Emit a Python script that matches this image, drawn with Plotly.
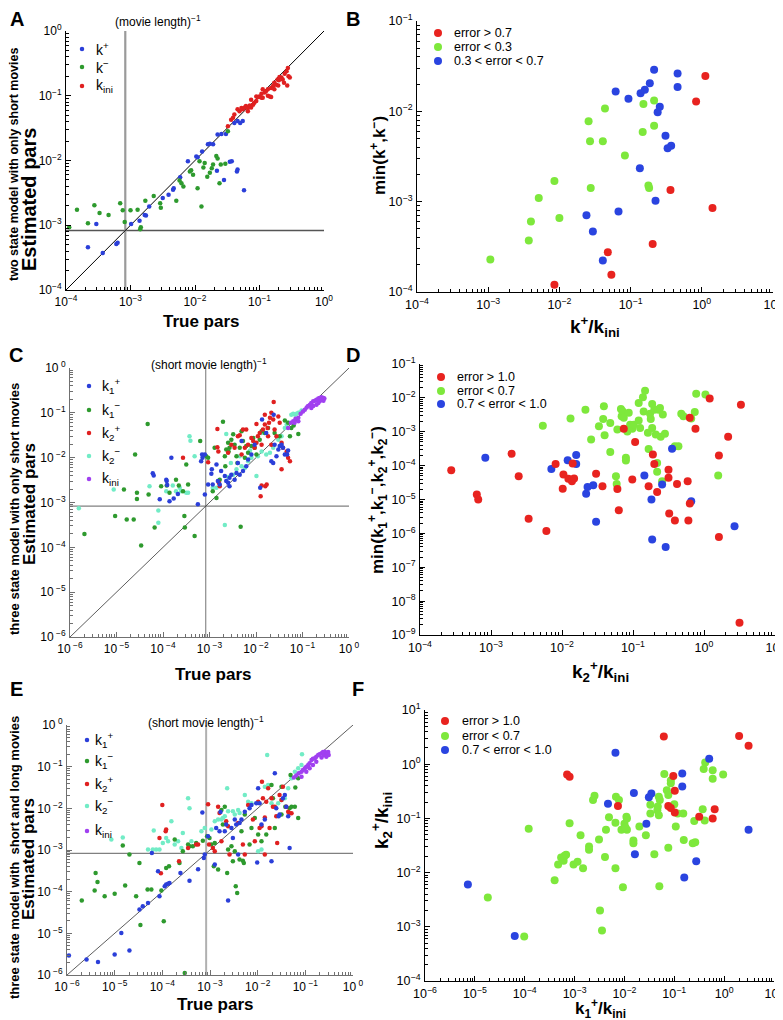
import plotly.graph_objects as go

W, H = 783, 1020
FONT = "Liberation Sans, Arial, Helvetica, sans-serif"

MOVIE_RATE = 8.3e-4  # (movie length)^-1

# ---------------- data (log10 of values) ----------------
# Panel A : (true, estimated)
A_KPLUS = [(-3.66,-3.34),(-3.53,-2.98),(-3.43,-3.43),(-3.22,-3.29),(-3.20,-3.27),(-2.99,-2.98),(-2.86,-2.93),
           (-2.78,-2.84),(-2.76,-2.85),(-2.71,-2.71),(-2.50,-2.58),(-2.41,-2.53),(-2.34,-2.45),(-2.33,-2.43),
           (-2.23,-2.26),(-2.11,-2.01),(-1.98,-1.94),(-1.96,-1.95),(-1.89,-1.86),(-1.80,-1.75),(-1.77,-1.74),
           (-1.72,-1.75),(-1.66,-2.16),(-1.65,-1.60),(-1.59,-1.59),(-1.55,-2.30),(-1.46,-2.02),(-1.43,-2.01),
           (-1.35,-2.17),(-1.34,-2.14),(-1.24,-2.46),(-1.34,-1.39),(-1.30,-1.42),(-1.26,-1.39),(-1.39,-1.42),
           (-1.52,-1.59)]
A_KMINUS = [(-3.95,-3.03),(-3.83,-2.76),(-3.66,-2.97),(-3.56,-2.69),(-3.48,-2.81),(-3.34,-2.84),(-3.16,-2.66),
            (-3.12,-2.77),(-3.09,-2.95),(-3.00,-2.77),(-2.89,-2.76),(-2.85,-3.06),(-2.84,-3.03),(-2.77,-2.62),
            (-2.64,-2.55),(-2.54,-2.66),(-2.53,-2.73),(-2.29,-2.62),(-2.24,-2.31),(-2.21,-2.35),(-2.18,-2.40),
            (-2.08,-2.17),(-2.06,-2.15),(-2.03,-2.22),(-1.96,-2.43),(-1.93,-2.01),(-1.90,-2.71),(-1.87,-2.11),
            (-1.85,-2.04),(-1.81,-2.25),(-1.77,-2.19),(-1.74,-2.12),(-1.72,-2.06),(-1.67,-1.93),(-1.65,-1.97),
            (-1.62,-2.35),(-1.60,-2.06),(-1.53,-2.05),(-1.49,-1.55)]
A_KINI = [(-1.49,-1.47),(-1.44,-1.37),(-1.41,-1.34),(-1.39,-1.29),(-1.34,-1.21),(-1.31,-1.24),(-1.28,-1.19),
          (-1.26,-1.21),(-1.23,-1.18),(-1.21,-1.16),(-1.18,-1.19),(-1.18,-1.24),(-1.15,-1.15),(-1.13,-1.18),
          (-1.13,-1.06),(-1.10,-1.14),(-1.08,-1.11),(-1.05,-1.08),(-1.05,-1.01),(-1.02,-1.02),(-1.00,-1.01),
          (-0.97,-0.97),(-0.97,-1.03),(-0.95,-1.03),(-0.95,-0.90),(-0.92,-0.95),(-0.90,-0.93),(-0.87,-0.90),
          (-0.87,-1.00),(-0.84,-1.01),(-0.82,-0.88),(-0.82,-1.02),(-0.79,-0.85),(-0.77,-0.90),(-0.77,-0.80),
          (-0.74,-0.83),(-0.72,-0.75),(-0.71,-0.84),(-0.70,-0.76),(-0.69,-0.71),(-0.66,-0.72),(-0.64,-0.75),
          (-0.62,-0.80),(-0.61,-0.66),(-0.58,-0.62),(-0.57,-0.84),(-0.56,-0.57),(-0.55,-0.70),(-0.53,-0.72)]

# Panel B : (k+/kini, min(k+,k-))
B_ERR_HI = [(0.05,-1.61),(-0.08,-1.89),(-0.44,-2.87),(0.15,-3.07),(-0.69,-3.47),(-1.32,-3.56),(-1.27,-3.81),
            (-2.07,-3.92)]
B_ERR_LO = [(-0.67,-1.88),(-0.82,-1.92),(-1.36,-1.97),(-1.59,-2.11),(-0.67,-2.16),(-0.83,-2.23),(-1.57,-2.33),
            (-1.39,-2.33),(-1.08,-2.49),(-2.07,-2.77),(-1.56,-2.85),(-0.75,-2.82),(-0.74,-2.85),(-2.29,-2.96),
            (-2.00,-3.18),(-2.40,-3.22),(-2.43,-3.43),(-2.97,-3.64)]
B_ERR_MID = [(-0.67,-1.54),(-0.34,-1.58),(-1.21,-1.78),(-0.80,-1.76),(-0.86,-1.80),(-0.73,-1.69),(-1.03,-1.86),
             (-0.34,-1.73),(-0.59,-1.95),(-0.62,-2.01),(-0.51,-2.27),(-0.43,-2.38),(-0.48,-2.41),(-0.87,-2.63),
             (-0.65,-2.99),(-1.17,-3.11),(-1.62,-3.15),(-1.53,-3.33),(-1.39,-3.65)]

# Panel C : (true, estimated)
C_K1P = [(-4.22,-2.35),(-4.20,-2.40),(-4.07,-2.93),(-3.93,-2.49),(-3.92,-2.52),(-3.91,-2.61),(-3.86,-2.97),
         (-3.82,-2.00),(-3.77,-2.91),(-3.68,-2.81),(-3.16,-1.93),(-3.15,-2.00),(-3.25,-3.04),(-3.10,-2.82),
         (-3.03,-2.60),(-3.18,-2.08),(-2.96,-2.36),(-2.93,-2.60),(-2.85,-2.15),(-2.82,-2.52),(-2.78,-2.60),
         (-2.75,-2.30),(-2.64,-2.52),(-2.60,-2.56),(-2.57,-2.45),(-2.53,-2.38),(-2.46,-2.49),(-2.42,-2.34),
         (-2.39,-2.12),(-2.35,-2.38),(-2.31,-1.63),(-2.28,-2.30),(-2.21,-2.19),(-2.17,-2.04),(-2.10,-1.93),
         (-2.03,-1.71),(-1.91,-2.67),(-1.87,-1.15),(-1.78,-1.45),(-1.67,-2.08),(-1.63,-2.12),(-1.60,-1.71),
         (-1.56,-1.97),(-1.52,-1.82),(-1.49,-1.74),(-1.45,-1.71),(-1.42,-1.78),(-1.38,-1.93),(-1.33,-1.93),
         (-1.31,-1.84),(-1.62,-1.04),(-3.10,-1.93),(-2.67,-2.41),(-2.57,-2.64),(-2.95,-2.26)]
C_K1M = [(-5.69,-3.70),(-5.03,-3.30),(-4.84,-2.71),(-4.78,-3.38),(-4.63,-3.38),(-4.60,-1.93),(-4.56,-2.78),
         (-4.56,-2.92),(-4.47,-3.96),(-4.33,-1.25),(-4.31,-2.82),(-4.18,-3.56),(-4.04,-2.64),(-3.92,-2.62),
         (-3.86,-2.78),(-3.72,-2.49),(-3.66,-2.62),(-3.57,-2.75),(-3.54,-3.30),(-3.53,-3.56),(-3.50,-2.15),
         (-3.46,-2.60),(-3.32,-3.75),(-3.20,-1.63),(-3.07,-1.97),(-3.03,-2.00),(-2.93,-2.75),(-2.89,-1.78),
         (-2.85,-2.90),(-2.78,-2.49),(-2.71,-1.20),(-2.67,-1.97),(-2.66,-2.19),(-2.64,-1.82),(-2.60,-1.67),
         (-2.59,-1.86),(-2.57,-1.78),(-2.53,-1.60),(-2.49,-1.48),(-2.46,-1.71),(-2.42,-1.97),(-2.40,-2.12),
         (-2.35,-1.78),(-2.33,-3.54),(-2.31,-1.41),(-2.28,-1.63),(-2.24,-2.00),(-2.21,-1.74),(-2.17,-1.89),
         (-2.10,-1.74),(-2.06,-1.56),(-2.03,-1.78),(-1.99,-1.93),(-1.92,-1.60),(-1.88,-1.41),(-1.81,-1.45),
         (-1.74,-1.34),(-1.60,-1.45),(-1.49,-1.52),(-1.38,-1.17),(-1.31,-1.22),(-1.24,-1.34),(-1.19,-1.28),
         (-1.09,-1.47),(-1.14,-1.15),(-1.27,-1.52)]
C_K2P = [(-3.57,-2.00),(-3.03,-2.10),(-2.83,-1.77),(-2.81,-1.86),(-2.80,-2.56),(-2.78,-2.64),(-2.83,-1.36),
         (-2.60,-1.89),(-2.53,-1.71),(-2.46,-1.78),(-2.39,-1.52),(-2.35,-1.50),(-2.31,-1.93),(-2.28,-1.37),
         (-2.24,-1.78),(-2.21,-1.37),(-2.17,-1.71),(-2.10,-1.56),(-2.06,-1.63),(-2.03,-1.78),(-1.99,-1.67),
         (-1.96,-1.52),(-1.92,-1.45),(-1.90,-2.86),(-1.88,-2.62),(-1.85,-1.37),(-1.81,-1.26),(-1.80,-2.64),
         (-1.77,-2.60),(-1.75,-1.34),(-1.72,-1.22),(-1.70,-1.11),(-1.67,-1.00),(-1.63,-1.15),(-1.60,-1.37),
         (-1.56,-1.52),(-1.52,-1.08),(-1.49,-1.22),(-1.62,-0.76),(-1.45,-1.67),(-1.42,-1.78),(-1.34,-1.86),
         (-1.31,-2.00),(-1.27,-2.08),(-1.67,-1.71),(-1.88,-1.71),(-1.74,-1.52),(-1.45,-2.26),(-1.81,-1.04),
         (-1.99,-1.25)]
C_K2M = [(-5.81,-3.13),(-5.06,-2.71),(-4.29,-2.64),(-4.10,-3.18),(-4.10,-3.45),(-3.93,-2.75),(-3.79,-2.62),
         (-3.72,-2.75),(-3.64,-2.67),(-3.61,-2.75),(-3.50,-2.78),(-3.46,-2.78),(-3.43,-1.52),(-3.41,-1.62),
         (-3.32,-1.97),(-2.93,-2.67),(-2.85,-2.67),(-2.67,-3.50),(-2.64,-1.47),(-2.60,-2.43),(-2.54,-2.12),
         (-2.49,-2.38),(-2.42,-2.26),(-2.35,-1.97),(-2.31,-2.19),(-2.24,-2.23),(-2.17,-2.08),(-2.10,-2.00),
         (-1.99,-2.41),(-1.96,-1.97),(-1.88,-1.86),(-1.78,-1.93),(-1.70,-1.89),(-1.63,-1.78),(-1.52,-1.60),
         (-1.45,-1.52),(-1.38,-1.34),(-1.31,-1.22),(-1.24,-1.04),(-1.20,-1.02),(-1.16,-1.04),(-1.13,-1.02),
         (-1.09,-1.00),(-1.06,-1.00),(-1.02,-0.95),(-1.34,-1.26),(-1.88,-1.45),(-2.13,-1.84)]
C_KINI = [(-1.31,-1.34),(-1.25,-1.22),(-1.20,-1.19),(-1.15,-1.13),(-1.09,-1.11),(-1.04,-1.02),(-0.99,-0.97),
          (-0.95,-0.93),(-0.91,-0.88),(-0.88,-0.85),(-0.84,-0.82),(-0.81,-0.78),(-0.77,-0.74),(-0.73,-0.73),
          (-0.70,-0.71),(-0.66,-0.68),(-0.63,-0.67),(-0.59,-0.65),(-0.55,-0.67),(-0.53,-0.68),(-0.70,-0.82),
          (-0.77,-0.85),(-0.63,-0.74),(-0.55,-0.73),(-0.66,-0.78),(-0.59,-0.70),(-0.81,-0.89),(-1.17,-1.22),
          (-1.09,-1.19)]

# Panel D : (k2+/kini, min(k1+,k1-,k2+,k2-))
D_ERR_HI = [(-3.56,-4.14),(-3.20,-4.85),(-3.18,-5.00),(-2.71,-3.65),(-2.61,-4.31),(-2.47,-5.57),(-2.22,-5.93),
            (-2.09,-3.95),(-1.85,-3.94),(-1.98,-4.26),(-1.99,-4.68),(-1.91,-4.39),(-1.86,-4.46),(-1.83,-4.38),
            (-1.52,-4.24),(-1.43,-4.61),(-1.22,-4.69),(-1.20,-5.32),(-1.13,-2.91),(-0.97,-3.30),(-1.01,-4.41),
            (-0.78,-4.61),(-0.72,-3.67),(-0.70,-3.95),(-0.66,-4.78),(-0.50,-4.12),(-0.50,-4.36),(-0.49,-5.41),
            (-0.41,-5.62),(-0.38,-4.54),(-0.23,-4.46),(-0.22,-5.62),(-0.20,-2.59),(-0.20,-5.12),(-0.12,-2.91),
            (0.08,-2.02),(0.21,-3.70),(0.21,-6.11),(0.34,-3.15),(0.52,-2.20),(0.50,-8.64)]
D_ERR_LO = [(-2.27,-2.82),(-1.88,-2.61),(-1.67,-2.35),(-1.59,-3.23),(-1.48,-2.84),(-1.42,-2.62),(-1.41,-2.25),
            (-1.40,-3.10),(-1.32,-2.74),(-1.32,-3.60),(-1.24,-4.31),(-1.23,-4.54),(-1.22,-2.93),(-1.17,-2.33),
            (-1.16,-2.54),(-1.15,-2.39),(-1.13,-2.59),(-1.10,-3.77),(-1.10,-3.85),(-1.08,-2.99),(-1.06,-2.44),
            (-1.04,-2.79),(-1.01,-2.91),(-0.99,-2.79),(-0.92,-2.15),(-0.92,-2.67),(-0.90,-2.89),(-0.86,-1.98),
            (-0.85,-2.40),(-0.83,-1.79),(-0.79,-3.03),(-0.78,-3.51),(-0.76,-2.47),(-0.75,-2.62),(-0.73,-2.18),
            (-0.73,-2.89),(-0.70,-2.35),(-0.68,-3.08),(-0.66,-3.92),(-0.66,-4.18),(-0.64,-2.35),(-0.62,-2.30),
            (-0.61,-3.15),(-0.58,-2.49),(-0.55,-3.06),(-0.59,-4.46),(-0.41,-3.43),(-0.36,-3.43),(-0.32,-2.47),
            (-0.29,-2.54),(-0.18,-2.61),(-0.13,-2.42),(-0.11,-1.88),(0.02,-1.90),(0.20,-4.29)]
D_ERR_MID = [(-3.08,-3.77),(-2.15,-4.10),(-1.92,-3.84),(-1.80,-3.69),(-1.80,-3.95),(-1.64,-4.63),(-1.66,-4.83),
             (-1.56,-4.58),(-1.52,-5.66),(-0.84,-4.29),(-0.74,-5.00),(-0.73,-6.18),(-0.59,-4.56),(-0.54,-6.40),
             (-0.45,-3.50),(-0.18,-5.05),(0.43,-5.79)]

# Panel E : (true, estimated)
E_K1P = [(-5.96,-5.53),(-5.59,-5.63),(-5.35,-5.69),(-5.00,-5.51),(-4.86,-4.99),(-4.69,-5.41),(-4.48,-4.43),
         (-4.41,-4.35),(-4.30,-4.27),(-4.22,-3.07),(-4.09,-3.51),(-4.06,-4.11),(-3.95,-3.87),(-3.92,-3.83),
         (-3.88,-3.81),(-3.85,-3.79),(-3.62,-3.55),(-3.43,-3.74),(-3.25,-3.46),(-3.16,-2.10),(-3.13,-3.19),
         (-3.11,-3.11),(-3.04,-2.67),(-2.90,-3.35),(-2.87,-2.47),(-2.80,-2.55),(-2.69,-2.55),(-2.66,-2.39),
         (-2.62,-4.21),(-2.55,-2.47),(-2.52,-2.71),(-2.48,-2.27),(-2.45,-2.39),(-2.41,-3.11),(-2.38,-2.35),
         (-2.34,-2.27),(-2.27,-2.08),(-2.17,-2.00),(-2.13,-1.92),(-2.03,-1.88),(-2.01,-3.30),(-1.99,-1.52),
         (-1.96,-1.88),(-1.92,-2.39),(-1.85,-2.27),(-1.71,-3.27),(-1.64,-1.16),(-1.61,-2.00),(-1.56,-2.19),
         (-1.54,-2.15),(-1.47,-1.76),(-1.43,-1.68),(-1.33,-2.95),(-1.36,-2.19),(-1.40,-1.96),(-2.78,-2.09)]
E_K1M = [(-5.69,-4.21),(-5.42,-3.97),(-5.40,-3.55),(-5.36,-3.77),(-5.21,-4.11),(-5.00,-4.05),(-4.83,-2.89),
         (-4.78,-3.85),(-4.69,-3.11),(-4.55,-4.11),(-4.46,-4.80),(-4.48,-3.31),(-4.31,-3.95),(-4.23,-3.95),
         (-4.02,-3.97),(-3.97,-4.71),(-3.92,-3.43),(-3.86,-3.39),(-3.74,-2.75),(-3.64,-3.31),(-3.57,-3.03),
         (-3.53,-5.95),(-3.46,-2.87),(-3.43,-2.91),(-3.36,-2.91),(-3.29,-2.83),(-3.15,-2.78),(-3.06,-2.67),
         (-3.01,-2.71),(-2.97,-2.87),(-2.92,-3.39),(-2.90,-2.83),(-2.83,-3.47),(-2.76,-2.04),(-2.73,-2.39),
         (-2.69,-1.96),(-2.64,-3.55),(-2.62,-2.99),(-2.55,-2.91),(-2.52,-3.27),(-2.48,-3.03),(-2.46,-3.87),
         (-2.43,-4.03),(-2.38,-3.23),(-2.34,-2.55),(-2.31,-3.26),(-2.29,-3.31),(-2.27,-2.15),(-2.17,-2.87),
         (-2.13,-2.47),(-2.06,-2.23),(-1.99,-2.63),(-1.92,-2.79),(-1.82,-2.63),(-1.71,-1.44),(-1.68,-1.76),
         (-1.64,-2.47),(-1.50,-2.15),(-1.42,-1.96),(-1.33,-2.00),(-1.29,-1.96),(-1.22,-1.96),(-1.21,-1.50),
         (-1.15,-2.23),(-1.31,-1.20),(-1.15,-1.28),(-1.50,-1.48)]
E_K2P = [(-4.06,-2.71),(-4.00,-1.92),(-3.93,-2.55),(-3.92,-2.51),(-4.03,-3.56),(-3.65,-3.27),(-3.46,-2.95),
         (-3.29,-2.87),(-3.25,-2.87),(-3.04,-1.90),(-3.02,-2.87),(-2.94,-2.95),(-2.90,-3.03),(-2.83,-1.96),
         (-2.80,-2.11),(-2.76,-2.79),(-2.66,-2.31),(-2.62,-2.43),(-2.59,-3.11),(-2.41,-2.35),(-2.31,-2.87),
         (-2.27,-3.11),(-2.20,-1.92),(-2.10,-2.27),(-2.06,-2.79),(-1.99,-1.84),(-1.96,-2.47),(-1.92,-2.43),
         (-1.89,-1.76),(-1.85,-3.11),(-1.82,-1.84),(-1.78,-1.52),(-1.75,-2.47),(-1.71,-1.76),(-1.68,-1.96),
         (-1.64,-1.96),(-1.61,-2.19),(-1.59,-2.83),(-1.54,-1.68),(-1.50,-1.80),(-1.47,-1.48),(-1.40,-1.96),
         (-1.36,-2.08),(-1.33,-2.12),(-1.29,-2.12),(-1.91,-1.36),(-1.85,-2.22)]
E_K2M = [(-5.07,-2.75),(-4.83,-2.70),(-4.30,-2.99),(-4.20,-2.99),(-4.13,-2.99),(-4.06,-2.99),(-4.18,-2.53),
         (-3.99,-2.83),(-3.92,-2.71),(-3.88,-2.79),(-3.81,-2.31),(-3.74,-2.87),(-3.67,-2.79),(-3.60,-2.95),
         (-3.57,-2.59),(-3.46,-1.76),(-3.43,-2.00),(-3.39,-2.79),(-3.18,-2.55),(-3.11,-2.47),(-2.97,-2.51),
         (-2.90,-2.31),(-2.83,-2.27),(-2.76,-2.27),(-2.73,-2.23),(-2.69,-2.19),(-2.64,-1.52),(-2.62,-2.07),
         (-2.52,-2.07),(-2.48,-2.15),(-2.41,-2.04),(-2.38,-2.11),(-2.27,-1.68),(-2.20,-1.84),(-2.13,-1.88),
         (-1.99,-3.03),(-1.92,-2.99),(-1.85,-1.48),(-1.78,-1.44),(-1.80,-0.72),(-1.71,-1.88),(-1.57,-1.88),
         (-1.50,-1.80),(-1.43,-1.76),(-1.36,-1.52),(-1.22,-1.12),(-1.15,-1.04),(-1.08,-0.96),(-1.07,-0.70),
         (-1.29,-1.28)]
E_KINI = [(-1.24,-1.26),(-1.19,-1.21),(-1.14,-1.16),(-1.08,-1.12),(-1.05,-1.08),(-1.01,-1.04),(-0.98,-1.00),
          (-0.94,-0.96),(-0.91,-0.92),(-0.87,-0.84),(-0.84,-0.81),(-0.80,-0.80),(-0.77,-0.76),(-0.73,-0.72),
          (-0.70,-0.70),(-0.66,-0.68),(-0.63,-0.65),(-0.59,-0.64),(-0.56,-0.68),(-0.52,-0.65),(-0.51,-0.72),
          (-0.66,-0.78),(-0.77,-0.88),(-0.84,-0.96),(-0.91,-1.04),(-0.61,-0.72),(-0.56,-0.76),(-0.98,-1.12),
          (-1.08,-1.24)]

# Panel F : (k1+/kini, k2+/kini)
F_ERR_HI = [(0.30,0.52),(0.49,0.34),(-1.21,0.51),(-3.15,-0.19),(-3.10,-0.23),(-2.13,-0.77),(-1.02,-0.22),
            (-0.99,-0.49),(-1.12,-0.77),(-1.07,-0.81),(-0.99,-0.89),(-0.50,-0.97),(-0.19,-0.83),(-0.23,-1.00)]
F_ERR_LO = [(-3.92,-1.19),(-4.74,-2.46),(-4.01,-3.18),(-3.40,-2.14),(-3.33,-1.85),(-3.27,-1.72),(-3.22,-1.78),
            (-3.20,-1.69),(-3.17,-1.67),(-3.10,-1.09),(-3.02,-1.85),(-2.94,-1.80),(-2.88,-1.31),(-2.83,-1.92),
            (-2.71,-1.58),(-2.71,-1.52),(-2.63,-0.66),(-2.60,-0.58),(-2.51,-1.39),(-2.49,-2.70),(-2.45,-3.07),
            (-2.39,-1.71),(-2.31,-0.98),(-2.37,-1.21),(-2.18,-1.92),(-2.18,-1.08),(-2.17,-0.60),(-2.11,-0.66),
            (-2.06,-1.21),(-2.03,-2.27),(-2.00,-1.10),(-1.96,-0.97),(-1.95,-1.00),(-1.95,-1.21),(-1.98,-1.17),
            (-1.82,-1.41),(-1.82,-1.46),(-1.70,-1.15),(-1.57,-1.31),(-1.48,-0.91),(-1.48,-0.75),(-1.40,-1.66),
            (-1.34,-0.85),(-1.33,-0.78),(-1.31,-0.94),(-1.31,-0.60),(-1.29,-0.66),(-1.30,-2.25),(-1.20,-0.18),
            (-1.15,-0.48),(-1.12,-0.57),(-1.07,-0.30),(-1.07,-0.35),(-1.12,-1.54),(-1.00,-0.74),(-0.97,-1.15),
            (-0.93,-0.91),(-0.82,-0.91),(-0.81,-1.40),(-0.60,-1.05),(-0.63,-1.46),(-0.58,-1.44),(-0.43,-0.83),
            (-0.39,-1.04),(-0.38,0.03),(-0.41,-0.09),(-0.23,-0.11),(-0.23,-0.27),(-0.02,-0.19)]
F_ERR_MID = [(-2.18,0.21),(-0.30,0.10),(-0.84,-0.17),(-0.84,-0.41),(-1.81,-0.53),(-1.51,-0.61),(-1.46,-0.54),
             (-2.33,-0.73),(-1.56,-1.10),(-1.79,-1.66),(-0.56,-1.79),(-0.80,-2.09),(0.49,-1.21),(-5.14,-2.22),
             (-4.20,-3.17)]

# colours
BLUE, GREEN, RED, CYAN, PURPLE = "#2b3fd9", "#2e9a2e", "#e02020", "#72ecc6", "#a040f0"
R2, G2, B2 = "#e8231f", "#7ee83c", "#2a44e0"


def xy(pairs):
    return [10 ** p[0] for p in pairs], [10 ** p[1] for p in pairs]


def PX(x):
    return x / W


def PY(y):
    return 1 - y / H


fig = go.Figure()


def scatter(pairs, color, size, ax):
    xs, ys = xy(pairs)
    fig.add_trace(go.Scatter(x=xs, y=ys, mode="markers", xaxis="x" + ax, yaxis="y" + ax,
                             marker=dict(color=color, size=size, line=dict(width=0)),
                             showlegend=False, cliponaxis=False, hoverinfo="skip"))


def refline(xs, ys, ax, color, width):
    fig.add_trace(go.Scatter(x=xs, y=ys, mode="lines", xaxis="x" + ax, yaxis="y" + ax,
                             line=dict(color=color, width=width), showlegend=False, hoverinfo="skip"))


# Panel A
refline([1e-4, 1], [MOVIE_RATE, MOVIE_RATE], "", "#555555", 1.3)
refline([MOVIE_RATE, MOVIE_RATE], [1e-4, 1], "", "#9a9a9a", 2.2)
refline([1e-4, 1], [1e-4, 1], "", "black", 1)
scatter(A_KPLUS, BLUE, 4.5, "")
scatter(A_KMINUS, GREEN, 4.5, "")
scatter(A_KINI, RED, 4.5, "")

# Panel B
scatter(B_ERR_LO, G2, 8, "2")
scatter(B_ERR_MID, B2, 8, "2")
scatter(B_ERR_HI, R2, 8, "2")

# Panel C
refline([1e-6, 1], [MOVIE_RATE, MOVIE_RATE], "3", "#808080", 1.1)
refline([MOVIE_RATE, MOVIE_RATE], [1e-6, 1], "3", "#808080", 1.1)
refline([1e-6, 1], [1e-6, 1], "3", "#333333", 0.8)
scatter(C_K2M, CYAN, 4.5, "3")
scatter(C_K1M, GREEN, 4.5, "3")
scatter(C_K2P, RED, 4.5, "3")
scatter(C_K1P, BLUE, 4.5, "3")
scatter(C_KINI, PURPLE, 4.5, "3")

# Panel D
scatter(D_ERR_LO, G2, 8, "4")
scatter(D_ERR_MID, B2, 8, "4")
scatter(D_ERR_HI, R2, 8, "4")

# Panel E
refline([1e-6, 1], [MOVIE_RATE, MOVIE_RATE], "5", "#808080", 1.1)
refline([MOVIE_RATE, MOVIE_RATE], [1e-6, 1], "5", "#b0b0b0", 2.0)
refline([1e-6, 1], [1e-6, 1], "5", "#333333", 0.8)
scatter(E_K2M, CYAN, 4.5, "5")
scatter(E_K1M, GREEN, 4.5, "5")
scatter(E_K2P, RED, 4.5, "5")
scatter(E_K1P, BLUE, 4.5, "5")
scatter(E_KINI, PURPLE, 4.5, "5")

# Panel F
scatter(F_ERR_LO, G2, 8, "6")
scatter(F_ERR_MID, B2, 8, "6")
scatter(F_ERR_HI, R2, 8, "6")


def log_axis(lo, hi, dom, anchor, color, fsize, sep=""):
    ks = list(range(lo, hi + 1))
    vals = [10.0 ** k for k in ks]
    text = ["10" + sep + "<sup>" + ("\u2212" if k < 0 else "") + str(abs(k)) + "</sup>" for k in ks]
    minor_vals = [m * 10.0 ** k for k in range(lo, hi) for m in range(2, 10)]
    return dict(type="log", range=[lo, hi], domain=dom, anchor=anchor, automargin=False,
                tickmode="array", tickvals=vals, ticktext=text,
                ticks="inside", ticklen=5, tickwidth=1, tickcolor=color,
                showline=True, linecolor=color, linewidth=1, mirror=False,
                showgrid=False, zeroline=False, ticklabelstandoff=1, ticklabeloverflow="allow",
                tickfont=dict(family=FONT, size=fsize, color="black"),
                minor=dict(tickmode="array", tickvals=minor_vals, ticks="inside", ticklen=3,
                           tickcolor=color, tickwidth=1, showgrid=False))


# panel boxes in pixels: (left, right, top, bottom)
BOX = {"": (58, 316, 23, 282), "2": (409, 765, 13, 284), "3": (62, 341, 360, 629),
       "4": (412, 767, 356, 627), "5": (59, 345, 717, 967), "6": (417, 766, 702, 973)}
RANGES = {"": ((-4, 0), (-4, 0)), "2": ((-4, 1), (-4, -1)), "3": ((-6, 0), (-6, 0)),
          "4": ((-4, 1), (-9, -1)), "5": ((-6, 0), (-6, 0)), "6": ((-6, 1), (-4, 1))}
AXCOL = {"": "black", "2": "black", "3": "#707070", "4": "black", "5": "#707070", "6": "black"}
TFS = {"": 12, "2": 12.5, "3": 12, "4": 12.5, "5": 12, "6": 12.5}

layout_axes = {}
for ax, (l, r, t, b) in BOX.items():
    (xlo, xhi), (ylo, yhi) = RANGES[ax]
    sep = "\u2009" if ax in ("3", "5") else ""
    layout_axes["xaxis" + ax] = log_axis(xlo, xhi, [PX(l), PX(r)], "y" + ax, AXCOL[ax], TFS[ax], sep)
    layout_axes["yaxis" + ax] = log_axis(ylo, yhi, [PY(b), PY(t)], "x" + ax, AXCOL[ax], TFS[ax], sep)

annotations = []
shapes = []


def text(x, y, s, size, bold=False, angle=0, anchor="center"):
    annotations.append(dict(x=PX(x), y=PY(y), xref="paper", yref="paper", text=("<b>%s</b>" % s) if bold else s,
                            showarrow=False, textangle=angle, xanchor=anchor, yanchor="middle",
                            font=dict(family=FONT, size=size, color="black")))


def legend(items, mx, tx, rows, msize, fsize):
    for (label, color), ry in zip(items, rows):
        r = msize / 2.0
        shapes.append(dict(type="circle", xref="paper", yref="paper", xsizemode="pixel", ysizemode="pixel",
                           xanchor=PX(mx), yanchor=PY(ry), x0=-r, x1=r, y0=-r, y1=r,
                           fillcolor=color, line=dict(width=0)))
        text(tx, ry, label, fsize, anchor="left")


# panel letters
for letter, (x, y) in {"A": (9, 11), "B": (345, 11), "C": (8, 347), "D": (345, 347),
                       "E": (8, 681), "F": (350, 681)}.items():
    text(x, y, letter, 20, bold=True)

# Panel A texts
text(150, 13, "(movie length)<sup>\u22121</sup>", 12)
text(193, 313, "True pars", 17, bold=True)
text(21, 192, "Estimated pars", 20, bold=True, angle=-90)
text(6, 157, "two state model with only short movies", 12.5, bold=True, angle=-90)
legend([("k<sup>+</sup>", BLUE), ("k<sup>\u2212</sup>", GREEN), ("k<sub>ini</sub>", RED)],
       74, 86, [41, 59, 78], 4.5, 14)

# Panel B texts
text(587, 318, "k<sup>+</sup>/k<sub>ini</sub>", 19, bold=True)
text(370, 148, "min(k<sup>+</sup>,k<sup>\u2212</sup>)", 17, bold=True, angle=-90)
legend([("error &gt; 0.7", R2), ("error &lt; 0.3", G2), ("0.3 &lt; error &lt; 0.7", B2)],
       430, 444, [25, 39, 53], 8, 12.5)

# Panel C texts
text(201, 356, "(short movie length)<sup>\u22121</sup>", 12)
text(205, 666, "True pars", 17, bold=True)
text(21, 496, "Estimated pars", 17, bold=True, angle=-90)
text(6, 501, "three state model with only short movies", 13, bold=True, angle=-90)
legend([("k<sub>1</sub><sup>+</sup>", BLUE), ("k<sub>1</sub><sup>\u2212</sup>", GREEN),
        ("k<sub>2</sub><sup>+</sup>", RED), ("k<sub>2</sub><sup>\u2212</sup>", CYAN),
        ("k<sub>ini</sub>", PURPLE)],
       81, 92, [378, 402, 425, 448, 471], 4.5, 14)

# Panel D texts
text(592, 663, "k<sub>2</sub><sup>+</sup>/k<sub>ini</sub>", 19, bold=True)
text(369, 492, "min(k<sub>1</sub><sup>+</sup>,k<sub>1</sub><sup>\u2212</sup>,k<sub>2</sub><sup>+</sup>,"
               "k<sub>2</sub><sup>\u2212</sup>)", 17, bold=True, angle=-90)
legend([("error &gt; 1.0", R2), ("error &lt; 0.7", G2), ("0.7 &lt; error &lt; 1.0", B2)],
       433, 447, [369, 383, 396], 8, 12.5)

# Panel E texts
text(198, 714, "(short movie length)<sup>\u22121</sup>", 12)
text(207, 996, "True pars", 17, bold=True)
text(20, 851, "Estimated pars", 17, bold=True, angle=-90)
text(6, 850, "three state model with  short and long movies", 13, bold=True, angle=-90)
legend([("k<sub>1</sub><sup>+</sup>", BLUE), ("k<sub>1</sub><sup>\u2212</sup>", GREEN),
        ("k<sub>2</sub><sup>+</sup>", RED), ("k<sub>2</sub><sup>\u2212</sup>", CYAN),
        ("k<sub>ini</sub>", PURPLE)],
       79, 85, [732, 753, 776, 798, 823], 4.5, 14)

# Panel F texts
text(592, 1000, "k<sub>1</sub><sup>+</sup>/k<sub>ini</sub>", 17, bold=True)
text(373, 813, "k<sub>2</sub><sup>+</sup>/k<sub>ini</sub>", 19, bold=True, angle=-90)
legend([("error &gt; 1.0", R2), ("error &lt; 0.7", G2), ("0.7 &lt; error &lt; 1.0", B2)],
       437, 452, [713, 728, 742], 8, 12.5)

fig.update_layout(width=W, height=H, margin=dict(l=0, r=0, t=0, b=0),
                  paper_bgcolor="white", plot_bgcolor="white", showlegend=False,
                  annotations=annotations, shapes=shapes, **layout_axes)

fig.write_html("out.html")
